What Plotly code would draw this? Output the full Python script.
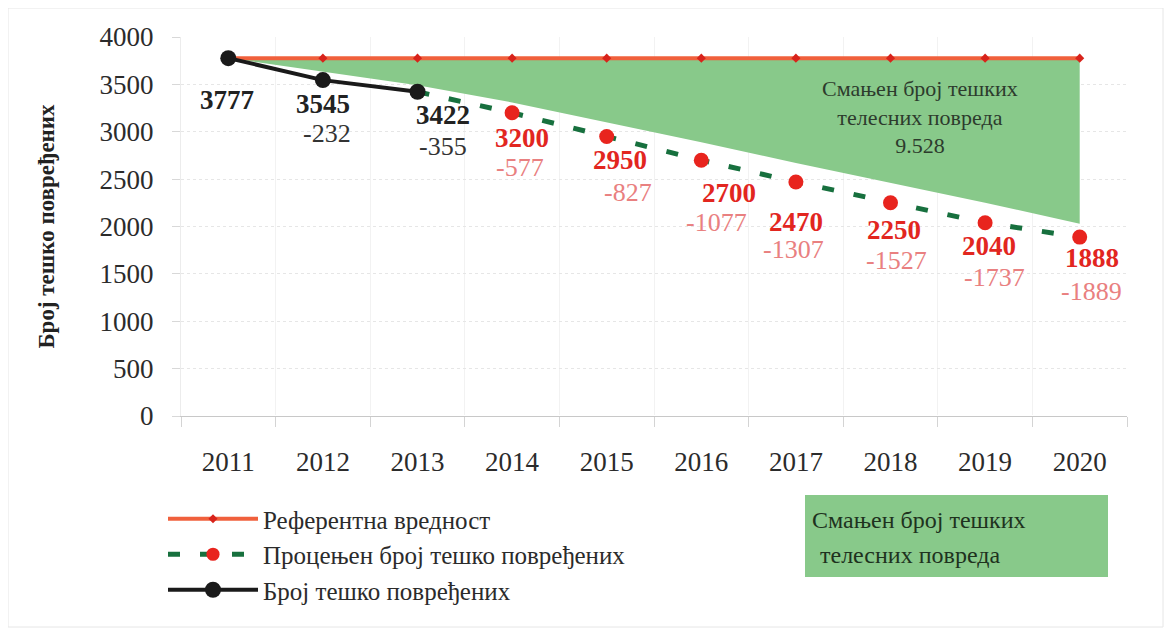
import plotly.graph_objects as go

# data
years = ["2011", "2012", "2013", "2014", "2015", "2016", "2017", "2018", "2019", "2020"]
reference = [3777, 3777, 3777, 3777, 3777, 3777, 3777, 3777, 3777, 3777]
actual_years = ["2011", "2012", "2013"]
actual = [3777, 3545, 3422]
actual_diff = ["", "-232", "-355"]
est_years = ["2013", "2014", "2015", "2016", "2017", "2018", "2019", "2020"]
estimated = [3422, 3200, 2950, 2700, 2470, 2250, 2040, 1888]
est_diff = ["", "-577", "-827", "-1077", "-1307", "-1527", "-1737", "-1889"]
# lower edge of the green "reduced injuries" area
fill_lower = [3777, 3635, 3490, 3310, 3100, 2890, 2670, 2460, 2250, 2030]

# label offsets in px (value label dx, dy; diff label dx, dy)
actual_off = [(-1, 42, 0, 0), (0, 24, 4, 53), (25, 23, 25, 55)]
est_off = [None, (10, 25, 8, 55), (13, 24, 21, 56), (28, 33, 15, 62),
           (0, 40, -2, 68), (3, 27, 6, 58), (4, 23, 9, 55), (12, 21, 12, 54)]

FONT = "Liberation Serif"
RED = "#e2261f"
RED_LIGHT = "#e98080"
GREEN_FILL = "#88c98a"

# page body adds an 8px offset, plot area should land at x 181-1127, y 37-416
OFF = 8

fig = go.Figure()

# green area between reference and estimate
fig.add_trace(go.Scatter(x=years, y=fill_lower, mode="lines", line=dict(width=0),
                         showlegend=False, hoverinfo="skip"))
fig.add_trace(go.Scatter(x=years, y=reference, mode="lines", line=dict(width=0),
                         fill="tonexty", fillcolor=GREEN_FILL,
                         showlegend=False, hoverinfo="skip"))

fig.add_trace(go.Scatter(
    x=years, y=reference, name="Референтна вредност",
    mode="lines+markers",
    line=dict(color="#f0603c", width=4),
    marker=dict(color="#d8231b", size=7, symbol="diamond"),
))
fig.add_trace(go.Scatter(
    x=est_years, y=estimated, name="Процењен број тешко повређених",
    mode="lines+markers",
    line=dict(color="#17703e", width=5, dash="12px,20px"),
    marker=dict(color="#e8241e", size=[0] + [15] * 7, opacity=1,
                line=dict(width=0)),
))
fig.add_trace(go.Scatter(
    x=actual_years, y=actual, name="Број тешко повређених",
    mode="lines+markers",
    line=dict(color="#1a1a1a", width=4),
    marker=dict(color="#1a1a1a", size=16),
))

annotations = []


def add_labels(xs, vals, diffs, offs, col, diff_col):
    for yr, v, d, off in zip(xs, vals, diffs, offs):
        if off is None:
            continue
        xi = years.index(yr)  # category index on the x axis
        annotations.append(dict(x=xi, y=v, xref="x", yref="y", text=f"<b>{v}</b>",
                                showarrow=False, xshift=off[0], yshift=-off[1],
                                xanchor="center", yanchor="middle",
                                font=dict(family=FONT, size=27, color=col)))
        if d:
            annotations.append(dict(x=xi, y=v, xref="x", yref="y", text=d,
                                    showarrow=False, xshift=off[2], yshift=-off[3],
                                    xanchor="center", yanchor="middle",
                                    font=dict(family=FONT, size=26, color=diff_col)))


add_labels(actual_years, actual, actual_diff, actual_off, "#222222", "#333333")
add_labels(est_years, estimated, est_diff, est_off, RED, RED_LIGHT)

# text inside the green area
annotations.append(dict(x=0.781, y=(416 - 117) / 379, xref="paper", yref="paper",
                        text="Смањен број тешких<br>телесних повреда<br>9.528",
                        showarrow=False, align="center",
                        xanchor="center", yanchor="middle",
                        font=dict(family=FONT, size=22, color="#2d3b2d")))
# green legend box text
annotations.append(dict(x=0.665, y=(416 - 520) / 379, xref="paper", yref="paper",
                        text="Смањен број тешких", showarrow=False,
                        xanchor="left", yanchor="middle",
                        font=dict(family=FONT, size=24, color="#1e321e")))
annotations.append(dict(x=0.673, y=(416 - 555) / 379, xref="paper", yref="paper",
                        text="телесних повреда", showarrow=False,
                        xanchor="left", yanchor="middle",
                        font=dict(family=FONT, size=24, color="#1e321e")))

shapes = [
    dict(type="rect", xref="paper", yref="paper",
         x0=(805 - 181) / 946, x1=(1108 - 181) / 946,
         y0=(416 - 577) / 379, y1=(416 - 495) / 379,
         fillcolor=GREEN_FILL, line=dict(width=0), layer="below"),
    dict(type="rect", xref="paper", yref="paper",
         x0=(8 - 181) / 946, x1=(1163 - 181) / 946,
         y0=(416 - 627) / 379, y1=(416 - 8) / 379,
         line=dict(color="#e6e6e6", width=1), layer="below"),
]

fig.update_layout(
    width=1172, height=632,
    margin=dict(l=181 - OFF, r=45 + OFF, t=37 - OFF, b=216 + OFF),
    plot_bgcolor="white", paper_bgcolor="white",
    font=dict(family=FONT, size=26, color="#2b2b2b"),
    xaxis=dict(type="category", range=[-0.5, 9.5], tickson="boundaries",
               ticks="outside", ticklen=10, tickangle=0,
               tickcolor="#d4d4d4", showline=True, linecolor="#c8c8c8",
               showgrid=True, gridcolor="#f2f2f2", ticklabelstandoff=22,
               tickfont=dict(size=27)),
    yaxis=dict(range=[0, 4000], dtick=500, ticks="outside", ticklen=8,
               tickcolor="#d8d8d8", showline=True, linecolor="#ececec",
               showgrid=True, gridcolor="#e6e6e6", griddash="dot",
               ticklabelstandoff=13, tickfont=dict(size=27),
               title=dict(text="<b>Број тешко повређених</b>", standoff=38,
                          font=dict(size=23, color="#222222"))),
    legend=dict(x=(163 - 181) / 946, y=(416 - 496) / 379,
                xanchor="left", yanchor="top",
                traceorder="normal", itemwidth=90,
                font=dict(family=FONT, size=25, color="#2b2b2b"),
                bgcolor="rgba(0,0,0,0)"),
    annotations=annotations,
    shapes=shapes,
    showlegend=True,
)

fig.write_html("out.html")
